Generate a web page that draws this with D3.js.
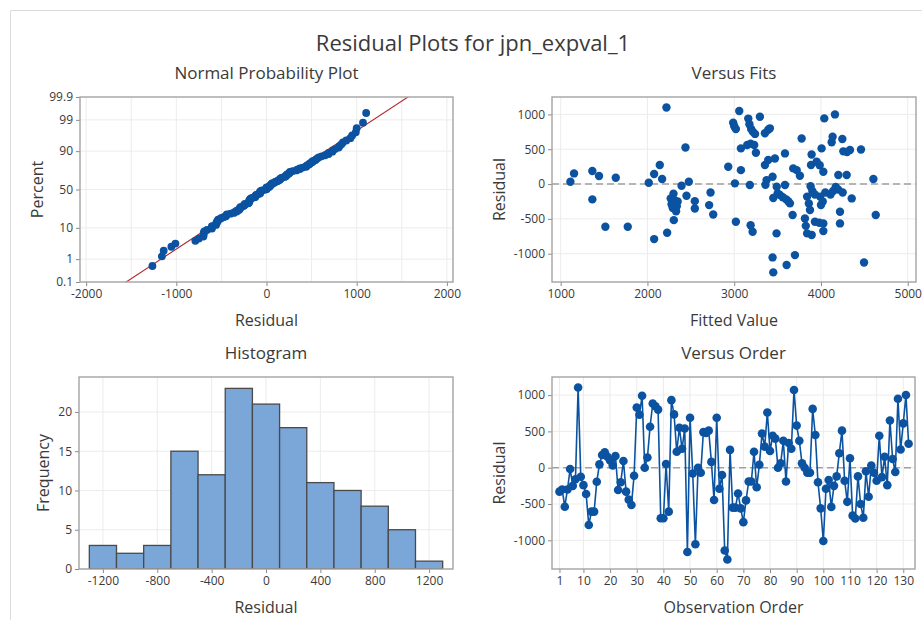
<!DOCTYPE html>
<html>
<head>
<meta charset="utf-8">
<script src="https://cdn.jsdelivr.net/npm/d3@7"></script>
<style>
  body { margin: 0; background: #fff; }
  svg text { font-family: "Open Sans", "Noto Sans", "DejaVu Sans", sans-serif; fill: #3a3a3a; }
</style>
</head>
<body>
<svg id="chart" width="922" height="620"></svg>
<script>
// ---- data -------------------------------------------------------------
// residuals in observation order (1..132)
const residuals = [
  -330, -300, -537, -300, -18, -250, -160, 1105, -124, -240, -362, -789, -605, -605, -193, 46,
  174, 211, 151, 100, 30, 160, -307, -200, 92, -330, -440, -514, -110, 830, 730, 990,
  0, 140, 564, 885, 847, 800, -697, -697, 50, -605, 930, 734, 220, 550, 260, 540,
  -1160, 688, -80, -1055, 0, -70, 490, 480, 510, 80, -445, 688, -290, -100, -1140, -1265, 245, -550,
  -550, -355, -560, -750, -450, -190, -190, 220, -270, 40, 470, 290, 760,
  230, 440, 400, 0, 60, 370, -190, 340, 260,
  1070, 580, 370, 60, 0, -70, -70, 810, 450, -200, -560, -1010,
  -290, -170, -540, -250, -120, 200, 510, -180, -470, 130, -660, -700, -120, -500, -690, -50,
  -400, 30, -70, -180, 440, -130, 150, -240, 650, 120, -60, 950, 250, 610, 1000, 330
];

// [fitted value, residual]
const fitPoints = [
  [1112, 33], [1154, 153], [1365, -220], [1365, 187], [1442, 115], [1515, -612], [1635, 91], [1773, -612],
  [2015, 19], [2077, 144], [2077, -790], [2142, 273], [2169, 72], [2219, 1100], [2227, -700], [2438, 526],
  [2477, 33], [2450, -167], [2393, -24], [2268, -206], [2285, -300], [2300, -140], [2310, -230],
  [2292, -345], [2315, -300], [2338, -320], [2348, -250], [2304, -518], [2278, -290], [2330, -390],
  [2546, -245], [2546, -350], [2727, -120], [2711, -302], [2758, -436],
  [2931, 249], [2988, 880], [3000, 830], [3019, 790], [3058, 1048], [3077, 512], [3077, 200], [3008, 10], [3019, -541],
  [3162, 940], [3175, 860], [3195, 790], [3215, 750], [3240, 720],
  [3150, 560], [3189, 580], [3230, 560], [3250, 450],
  [3180, -14], [3189, -590], [3212, -685],
  [3296, 967], [3354, 730], [3392, 780], [3411, 800],
  [3354, 273], [3392, 345], [3469, 368],
  [3373, 57], [3442, 105], [3360, -10],
  [3490, -38], [3500, -134], [3450, -200],
  [3442, -1053], [3450, -1268],
  [3585, 440], [3585, -14],
  [3527, -158], [3560, -190], [3600, -220], [3625, -250], [3642, -277],
  [3673, -445], [3488, -708], [3604, -1163], [3700, -1020],
  [3777, 655], [3680, 225], [3720, 200], [3757, 120],
  [3892, 425], [3885, 273], [3950, 320], [3985, 270], [4027, 177], [4007, 512], [4038, 943], [4161, 1000],
  [4123, 600], [4134, 680], [4246, 646], [4258, 470], [4300, 460], [4334, 490], [4461, 497], [4200, 130],
  [4296, 130], [4604, 72],
  [3880, -30], [3900, -100], [3930, -150], [3990, -180], [4020, -250], [4050, -120], [4110, -150],
  [4140, -100], [4170, -40], [4200, -80], [4250, -120], [4000, -300],
  [3840, -180], [3860, -280], [3873, -373], [3893, -732], [3815, -493], [3825, -600], [3840, -708],
  [3930, -540], [3980, -555], [4027, -565], [4027, -675], [4219, -565], [4219, -397], [4354, -206],
  [4631, -445], [4496, -1125]
];

// histogram: bin midpoints (width 200) and frequencies
const binMids = [-1200, -1000, -800, -600, -400, -200, 0, 200, 400, 600, 800, 1000, 1200];
const binCounts = [3, 2, 3, 15, 12, 23, 21, 18, 11, 10, 8, 5, 1];
const binWidth = 200;

// tick values
const percentTicks = [0.1, 1, 10, 50, 90, 99, 99.9];
const npResidualTicks = [-2000, -1000, 0, 1000, 2000];
const fittedTicks = [1000, 2000, 3000, 4000, 5000];
const residualTicks = [-1000, -500, 0, 500, 1000];
const histResidualTicks = [-1200, -800, -400, 0, 400, 800, 1200];
const freqTicks = [0, 5, 10, 15, 20];
const orderTicks = [1, 10, 20, 30, 40, 50, 60, 70, 80, 90, 100, 110, 120, 130];

// ---- helpers ----------------------------------------------------------
// inverse standard normal CDF (Acklam)
function probit(p) {
  const a = [-3.969683028665376e+01, 2.209460984245205e+02, -2.759285104469687e+02, 1.383577518672690e+02, -3.066479806614716e+01, 2.506628277459239e+00];
  const b = [-5.447609879822406e+01, 1.615858368580409e+02, -1.556989798598866e+02, 6.680131188771972e+01, -1.328068155288572e+01];
  const c = [-7.784894002430293e-03, -3.223964580411365e-01, -2.400758277161838e+00, -2.549732539343734e+00, 4.374664141464968e+00, 2.938163982698783e+00];
  const d = [7.784695709041462e-03, 3.224671290700398e-01, 2.445134137142996e+00, 3.754408661907416e+00];
  const pl = 0.02425, ph = 1 - pl;
  let q, r;
  if (p < pl) {
    q = Math.sqrt(-2 * Math.log(p));
    return (((((c[0]*q + c[1])*q + c[2])*q + c[3])*q + c[4])*q + c[5]) / ((((d[0]*q + d[1])*q + d[2])*q + d[3])*q + 1);
  }
  if (p > ph) {
    q = Math.sqrt(-2 * Math.log(1 - p));
    return -(((((c[0]*q + c[1])*q + c[2])*q + c[3])*q + c[4])*q + c[5]) / ((((d[0]*q + d[1])*q + d[2])*q + d[3])*q + 1);
  }
  q = p - 0.5; r = q * q;
  return (((((a[0]*r + a[1])*r + a[2])*r + a[3])*r + a[4])*r + a[5])*q / (((((b[0]*r + b[1])*r + b[2])*r + b[3])*r + b[4])*r + 1);
}

const BLUE = "#0b53a1";
const GRID = "#ececec";
const FRAME = "#a3a3a3";
const TEXT = "#3a3a3a";

const svg = d3.select("#chart");
svg.append("rect").attr("width", 922).attr("height", 620).attr("fill", "#fff");
// surrounding graph window edge
svg.append("path").attr("d", "M10.5,620 V10.5 H922").attr("fill", "none").attr("stroke", "#dcdcdc");

svg.append("text").attr("x", 473).attr("y", 51).attr("text-anchor", "middle")
  .style("font-size", "22px").attr("fill", "#444").text("Residual Plots for jpn_expval_1");

let clipId = 0;
function panel(x, y, o) {
  const [x0, x1] = x.range();
  const [y1, y0] = y.range();
  const g = svg.append("g");
  // grid
  g.append("g").selectAll("line").data(o.xGrid).join("line")
    .attr("x1", d => x(d)).attr("x2", d => x(d)).attr("y1", y0).attr("y2", y1)
    .attr("stroke", GRID).attr("stroke-width", 1);
  g.append("g").selectAll("line").data(o.yGrid).join("line")
    .attr("y1", d => y(d)).attr("y2", d => y(d)).attr("x1", x0).attr("x2", x1)
    .attr("stroke", GRID).attr("stroke-width", 1);
  // axes
  const ax = g.append("g").attr("transform", `translate(0,${y1})`)
    .call(d3.axisBottom(x).tickValues(o.xTicks).tickFormat(o.xFormat || (d => d)).tickSize(4).tickSizeOuter(0).tickPadding(3));
  const ay = g.append("g").attr("transform", `translate(${x0},0)`)
    .call(d3.axisLeft(y).tickValues(o.yTicks).tickFormat(o.yFormat || (d => d)).tickSize(4).tickSizeOuter(0).tickPadding(3));
  [ax, ay].forEach(a => {
    a.select(".domain").remove();
    a.selectAll(".tick line").attr("stroke", "#8a8a8a");
    a.selectAll(".tick text").style("font-size", "12px").attr("fill", TEXT).style("font-family", null);
  });
  // titles
  svg.append("text").attr("x", (x0 + x1) / 2).attr("y", y0 - 18).attr("text-anchor", "middle")
    .style("font-size", "17px").attr("fill", "#444").text(o.title);
  svg.append("text").attr("x", (x0 + x1) / 2).attr("y", y1 + 44).attr("text-anchor", "middle")
    .style("font-size", "16px").attr("fill", "#444").text(o.xLabel);
  svg.append("text").attr("transform", `translate(${o.yLabelX},${(y0 + y1) / 2}) rotate(-90)`)
    .attr("text-anchor", "middle").style("font-size", "16px").attr("fill", "#444").text(o.yLabel);
  // clip for data layer
  const id = "clip" + (clipId++);
  svg.append("clipPath").attr("id", id).append("rect")
    .attr("x", x0).attr("y", y0).attr("width", x1 - x0).attr("height", y1 - y0);
  const data = svg.append("g").attr("clip-path", `url(#${id})`);
  const frame = () => svg.append("rect").attr("x", x0).attr("y", y0).attr("width", x1 - x0).attr("height", y1 - y0)
    .attr("fill", "none").attr("stroke", FRAME).attr("stroke-width", 1.4);
  return { data, frame };
}

// ---- Normal probability plot -------------------------------------------
{
  const x = d3.scaleLinear([-2068, 2068], [80, 453]);
  const y = d3.scaleLinear([probit(0.001), probit(0.999)], [282, 97]);
  const p = panel(x, y, {
    xGrid: d3.range(-2000, 2001, 500), yGrid: percentTicks.slice(1, -1).map(v => probit(v / 100)),
    xTicks: npResidualTicks, yTicks: percentTicks.map(v => probit(v / 100)),
    yFormat: (d, i) => percentTicks[i],
    title: "Normal Probability Plot", xLabel: "Residual", yLabel: "Percent", yLabelX: 43
  });
  const n = residuals.length;
  const sorted = residuals.slice().sort(d3.ascending);
  const mu = d3.mean(residuals), sd = d3.deviation(residuals);
  const zs = [probit(0.0005), probit(0.9995)];
  p.data.append("line")
    .attr("x1", x(mu + sd * zs[0])).attr("y1", y(zs[0]))
    .attr("x2", x(mu + sd * zs[1])).attr("y2", y(zs[1]))
    .attr("stroke", "#b3262a").attr("stroke-width", 1.1);
  p.data.selectAll("circle").data(sorted).join("circle")
    .attr("cx", d => x(d)).attr("cy", (d, i) => y(probit((i + 1 - 0.3) / (n + 0.4))))
    .attr("r", 3.9).attr("fill", BLUE);
  p.frame();
}

// ---- Versus fits --------------------------------------------------------
{
  const x = d3.scaleLinear([900, 5095], [552, 916]);
  const y = d3.scaleLinear([-1406, 1250], [282, 97]);
  const p = panel(x, y, {
    xGrid: fittedTicks, yGrid: residualTicks, xTicks: fittedTicks, yTicks: residualTicks,
    title: "Versus Fits", xLabel: "Fitted Value", yLabel: "Residual", yLabelX: 505
  });
  p.data.append("line").attr("x1", 552).attr("x2", 916).attr("y1", y(0)).attr("y2", y(0))
    .attr("stroke", "#a0a0a0").attr("stroke-width", 1.5).attr("stroke-dasharray", "7,4");
  p.data.selectAll("circle").data(fitPoints).join("circle")
    .attr("cx", d => x(d[0])).attr("cy", d => y(d[1])).attr("r", 4.2).attr("fill", BLUE);
  p.frame();
}

// ---- Histogram ----------------------------------------------------------
{
  const x = d3.scaleLinear([-1376, 1376], [79, 453]);
  const y = d3.scaleLinear([0, 24.45], [569, 377]);
  const p = panel(x, y, {
    xGrid: histResidualTicks, yGrid: freqTicks, xTicks: histResidualTicks, yTicks: freqTicks,
    title: "Histogram", xLabel: "Residual", yLabel: "Frequency", yLabelX: 49
  });
  p.data.selectAll("rect").data(binMids).join("rect")
    .attr("x", d => x(d - binWidth / 2)).attr("width", d => x(d + binWidth / 2) - x(d - binWidth / 2))
    .attr("y", (d, i) => y(binCounts[i])).attr("height", (d, i) => y(0) - y(binCounts[i]))
    .attr("fill", "#7ba6d8").attr("stroke", "#4a4a4a").attr("stroke-width", 1.3);
  p.frame();
}

// ---- Versus order -------------------------------------------------------
{
  const x = d3.scaleLinear([-1.8, 134.4], [552, 915]);
  const y = d3.scaleLinear([-1395, 1249], [569, 377]);
  const p = panel(x, y, {
    xGrid: orderTicks, yGrid: residualTicks, xTicks: orderTicks, yTicks: residualTicks,
    title: "Versus Order", xLabel: "Observation Order", yLabel: "Residual", yLabelX: 505
  });
  p.data.append("line").attr("x1", 552).attr("x2", 915).attr("y1", y(0)).attr("y2", y(0))
    .attr("stroke", "#a0a0a0").attr("stroke-width", 1.5).attr("stroke-dasharray", "7,4");
  p.data.append("path").datum(residuals)
    .attr("d", d3.line().x((d, i) => x(i + 1)).y(d => y(d)))
    .attr("fill", "none").attr("stroke", BLUE).attr("stroke-width", 1.6);
  p.data.selectAll("circle").data(residuals).join("circle")
    .attr("cx", (d, i) => x(i + 1)).attr("cy", d => y(d)).attr("r", 4.3).attr("fill", BLUE);
  p.frame();
}
</script>
</body>
</html>
